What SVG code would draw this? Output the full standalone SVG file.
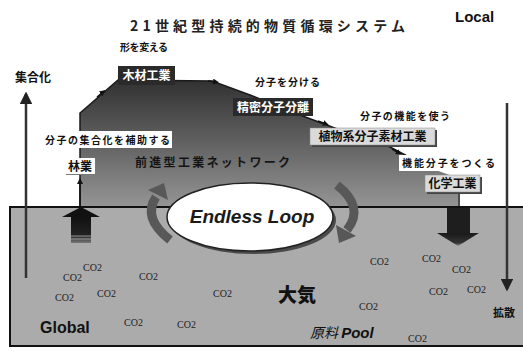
<svg xmlns="http://www.w3.org/2000/svg" width="523" height="351" viewBox="0 0 523 351">
<defs>
<linearGradient id="mtn" x1="0" y1="78" x2="0" y2="207" gradientUnits="userSpaceOnUse">
<stop offset="0" stop-color="#303030"/><stop offset="0.45" stop-color="#5c5c5c"/><stop offset="1" stop-color="#959595"/>
</linearGradient>
<linearGradient id="upArr" x1="0" y1="0" x2="0" y2="1">
<stop offset="0" stop-color="#111"/><stop offset="0.7" stop-color="#222"/><stop offset="1" stop-color="#777"/>
</linearGradient>
<linearGradient id="dnArr" x1="0" y1="0" x2="0" y2="1">
<stop offset="0" stop-color="#1a1a1a"/><stop offset="0.75" stop-color="#333"/><stop offset="1" stop-color="#888"/>
</linearGradient>
<marker id="ah" viewBox="0 0 10 10" refX="8" refY="5" markerWidth="5" markerHeight="5" orient="auto">
<path d="M0,0 L10,5 L0,10 z" fill="#222"/>
</marker>
<marker id="ahs" viewBox="0 0 10 10" refX="5" refY="5" markerWidth="4" markerHeight="4" orient="auto">
<path d="M0,0 L10,5 L0,10 z" fill="#111"/>
</marker>
<style>
.jp{font-family:"Noto Sans CJK JP","Noto Sans",sans-serif;}
.lbl{font-family:"Noto Sans CJK JP",sans-serif;font-size:10px;font-weight:bold;fill:#111;}
.boxd{fill:#2a2a2a;}
.boxl{fill:#dadada;stroke:#888;stroke-width:0.5;}
.shd{fill:#444;}
.wt{font-family:"Noto Sans CJK JP",sans-serif;font-size:12px;font-weight:bold;fill:#fff;text-anchor:middle;}
.dt{font-family:"Noto Sans CJK JP",sans-serif;font-size:12px;font-weight:bold;fill:#111;text-anchor:middle;}
.co2{font-family:"Liberation Serif","Times New Roman",serif;font-size:10px;fill:#222;}
.axis{stroke:#333;stroke-width:2.5;fill:none;}
.edge{stroke:#1a1a1a;stroke-width:1.5;fill:none;}
</style>
</defs>
<rect width="523" height="351" fill="#fff"/>

<!-- mountain -->
<path id="mountain" d="M80,207 V113 L118,80 L212,81 L250,95 L300,115 L340,130 L390,147 L430,168 L458,178 V207 Z" fill="url(#mtn)"/>
<path d="M80,207 V113 L118,80 L212,81 L250,95 L300,115 L340,130 L390,147 L430,168" class="edge"/>

<!-- ground -->
<rect id="ground" x="10" y="207" width="520" height="139" fill="#ababab" stroke="#111" stroke-width="2"/>

<!-- title -->
<text x="130" y="31" class="jp" font-size="14" font-weight="bold" fill="#222" textLength="275" lengthAdjust="spacing">21世紀型持続的物質循環システム</text>
<text x="455" y="22" font-family="Liberation Sans,Arial,sans-serif" font-size="15" font-weight="bold" fill="#111">Local</text>

<g id="connectors">
<line x1="26" y1="278" x2="26" y2="94" class="axis" marker-end="url(#ah)"/>
<line x1="507" y1="103" x2="507" y2="289" class="axis" marker-end="url(#ah)"/>
<line x1="80" y1="207" x2="80" y2="181" stroke="#111" stroke-width="1.5" marker-end="url(#ahs)"/>
<line x1="459" y1="192" x2="459" y2="208" stroke="#111" stroke-width="1.5"/>
<path d="M97,97 L103,92" stroke="#111" stroke-width="1.5" marker-end="url(#ahs)"/>
<path d="M208,81 L216,82" stroke="#111" stroke-width="1.5" marker-end="url(#ahs)"/>
<path d="M318,121 L326,124" stroke="#111" stroke-width="1.5" marker-end="url(#ahs)"/>
<path d="M392,149 L399,153" stroke="#111" stroke-width="1.5" marker-end="url(#ahs)"/>
<!-- big up arrow -->
<g id="upArrow">
<polygon points="62,217 81,207 100,217" fill="#111"/>
<rect x="71" y="217" width="20" height="26" fill="url(#upArr)"/>
<line x1="71" y1="236" x2="91" y2="236" stroke="#aaa" stroke-width="0.8"/>
<line x1="71" y1="239" x2="91" y2="239" stroke="#aaa" stroke-width="0.8"/>
</g>
<!-- big down arrow -->
<g id="downArrow">
<rect x="447" y="208" width="23" height="25" fill="#1e1e1e"/>
<polygon points="437,233 479,233 458,246" fill="url(#dnArr)"/>
</g>
<!-- curved loop arrows -->
<path d="M170,240 Q142,218 156,197" stroke="#585858" stroke-width="9" fill="none"/>
<polygon points="164,183 168,200 148,190" fill="#585858"/>
<path d="M337,185 Q365,207 347,230" stroke="#585858" stroke-width="9" fill="none"/>
<polygon points="339,243 356,236 336,225" fill="#585858"/>
</g>

<!-- Endless loop -->
<g id="endless-loop">
<ellipse cx="253" cy="220" rx="83" ry="34" fill="#4a4a4a"/>
<ellipse cx="250" cy="217" rx="83" ry="34" fill="#fff" stroke="#222" stroke-width="1.5"/>
<text x="252" y="223" text-anchor="middle" font-family="Liberation Sans,Arial,sans-serif" font-size="19" font-weight="bold" font-style="italic" fill="#1a1a1a">Endless Loop</text>
</g>

<!-- side labels -->
<text x="15" y="82" class="jp" font-size="12" font-weight="bold" fill="#111">集合化</text>
<text x="493" y="317" class="jp" font-size="11" font-weight="bold" fill="#111">拡散</text>

<!-- process labels -->
<text x="120" y="51" class="lbl" textLength="48" lengthAdjust="spacing">形を変える</text>
<text x="255" y="86" class="lbl" textLength="65" lengthAdjust="spacing">分子を分ける</text>
<text x="360" y="120" class="lbl" textLength="90" lengthAdjust="spacing">分子の機能を使う</text>
<rect x="42" y="131" width="130" height="17" fill="#fff"/>
<text x="45" y="144" class="lbl" textLength="125" lengthAdjust="spacing">分子の集合化を補助する</text>
<rect x="399" y="155" width="99" height="16" fill="#fff"/>
<text x="402" y="167" class="lbl" textLength="93" lengthAdjust="spacing">機能分子をつくる</text>
<text x="135" y="167" class="jp" font-size="12" font-weight="bold" fill="#151515" textLength="155" lengthAdjust="spacing">前進型工業ネットワーク</text>

<!-- nodes -->
<g id="mokuzai">
<rect x="118" y="66" width="57" height="19" class="boxd"/>
<text x="146.5" y="80" class="wt">木材工業</text>
</g>
<g id="seimitsu">
<rect x="233" y="98" width="80" height="18" class="boxd"/>
<text x="273" y="111.5" class="wt">精密分子分離</text>
</g>
<g id="shokubutsu">
<rect x="312" y="130" width="125" height="17" class="shd"/>
<rect x="310" y="128" width="125" height="17" class="boxl"/>
<text x="372.5" y="141" class="dt">植物系分子素材工業</text>
</g>
<g id="kagaku">
<rect x="427" y="177" width="55" height="17" class="shd"/>
<rect x="425" y="175" width="55" height="17" class="boxl"/>
<text x="452.5" y="188" class="dt">化学工業</text>
</g>
<g id="ringyo">
<rect x="66" y="159" width="30" height="16" fill="#777"/>
<rect x="65" y="158" width="30" height="16" fill="#fff"/>
<text x="80" y="171" class="dt">林業</text>
</g>

<!-- ground labels -->
<text x="40" y="333" font-family="Liberation Sans,Arial,sans-serif" font-size="16" font-weight="bold" fill="#111">Global</text>
<text x="278" y="302" font-family="Noto Sans CJK JP,sans-serif" font-size="19" font-weight="900" fill="#111">大気</text>
<text x="310" y="338" font-family="Noto Sans CJK JP,sans-serif" font-size="14" font-style="italic" fill="#111">原料 <tspan font-family="Liberation Sans,Arial,sans-serif" font-weight="bold" font-size="15">Pool</tspan></text>

<g id="co2s">
<text x="83" y="271" class="co2">CO2</text>
<text x="63" y="281" class="co2">CO2</text>
<text x="139" y="280" class="co2">CO2</text>
<text x="55" y="301" class="co2">CO2</text>
<text x="97" y="297" class="co2">CO2</text>
<text x="213" y="297" class="co2">CO2</text>
<text x="124" y="326" class="co2">CO2</text>
<text x="177" y="328" class="co2">CO2</text>
<text x="370" y="265" class="co2">CO2</text>
<text x="422" y="262" class="co2">CO2</text>
<text x="452" y="273" class="co2">CO2</text>
<text x="429" y="295" class="co2">CO2</text>
<text x="467" y="293" class="co2">CO2</text>
<text x="359" y="310" class="co2">CO2</text>
<text x="408" y="342" class="co2">CO2</text>
</g>
</svg>
